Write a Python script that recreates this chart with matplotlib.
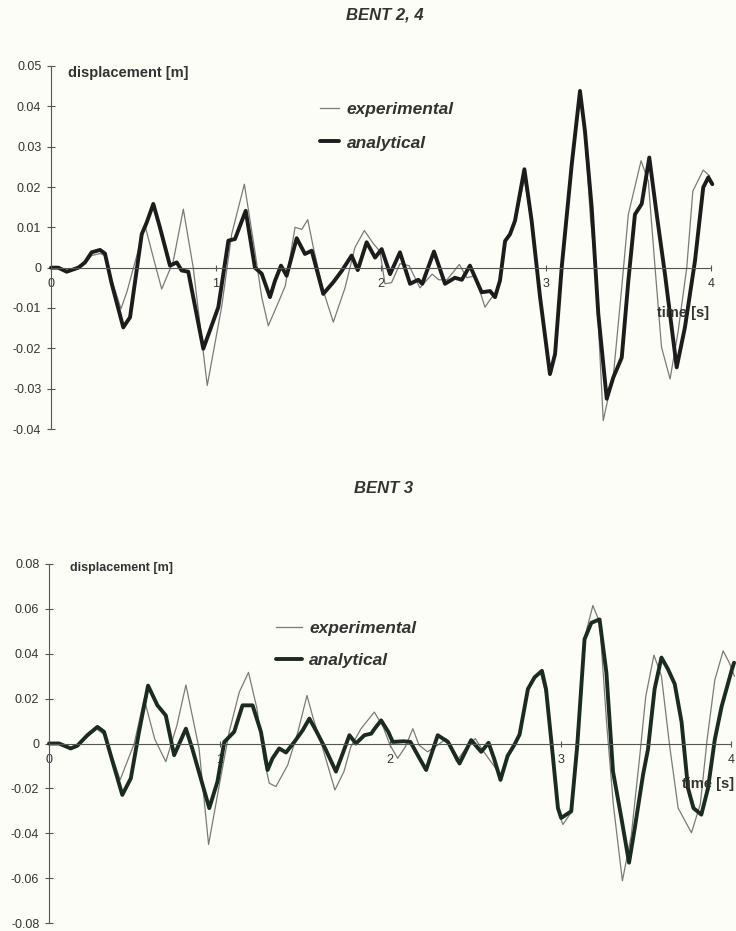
import matplotlib
matplotlib.use("Agg")
import matplotlib.pyplot as plt

plt.rcParams['font.family'] = ['Liberation Sans', 'DejaVu Sans']

# BENT 2, 4  (time [s], displacement [m])
t_ana_24 = [0, 0.044, 0.095, 0.166, 0.206, 0.246, 0.297, 0.327, 0.368, 0.438,
            0.479, 0.55, 0.58, 0.62, 0.66, 0.721, 0.762, 0.792, 0.832, 0.923,
            1.014, 1.075, 1.115, 1.18, 1.236, 1.277, 1.327, 1.358, 1.394, 1.428,
            1.489, 1.539, 1.58, 1.65, 1.711, 1.762, 1.822, 1.859, 1.913, 1.964,
            2.004, 2.055, 2.115, 2.176, 2.226, 2.25, 2.321, 2.388, 2.448, 2.49,
            2.539, 2.61, 2.661, 2.691, 2.721, 2.752, 2.782, 2.812, 2.869, 2.913,
            2.964, 3.024, 3.055, 3.095, 3.156, 3.206, 3.236, 3.277, 3.317, 3.368,
            3.408, 3.459, 3.499, 3.539, 3.58, 3.626, 3.671, 3.721, 3.792, 3.842,
            3.903, 3.953, 3.984, 4.008]
d_ana_24 = [0, 0, -0.001, 0, 0.0013, 0.0038, 0.0044, 0.0035, -0.004, -0.0148,
            -0.0123, 0.0083, 0.0112, 0.0158, 0.01, 0.0005, 0.0013, -0.0007, -0.001, -0.0201,
            -0.0098, 0.0067, 0.0071, 0.0141, 0, -0.0015, -0.0073, -0.0032, 0.0005, -0.002,
            0.0073, 0.0034, 0.0042, -0.0065, -0.0036, -0.0008, 0.003, -0.0006, 0.0063, 0.0025,
            0.0046, -0.0016, 0.0038, -0.004, -0.003, -0.004, 0.004, -0.004, -0.0025, -0.003,
            0.0005, -0.0061, -0.0058, -0.0073, -0.0032, 0.0066, 0.0083, 0.0116, 0.0244, 0.0116,
            -0.0073, -0.0264, -0.0214, 0, 0.0256, 0.0438, 0.0339, 0.0149, -0.0115, -0.0325,
            -0.0272, -0.0223, -0.0033, 0.0132, 0.0158, 0.0273, 0.0132, -0.0016, -0.0247, -0.0148,
            0.0017, 0.0199, 0.0224, 0.0207]

t_exp_24 = [0, 0.044, 0.095, 0.166, 0.206, 0.246, 0.297, 0.327, 0.368, 0.424,
            0.46, 0.5, 0.57, 0.62, 0.671, 0.741, 0.802, 0.862, 0.947, 1.034,
            1.095, 1.172, 1.236, 1.277, 1.317, 1.378, 1.42, 1.479, 1.52, 1.556,
            1.59, 1.65, 1.711, 1.782, 1.842, 1.899, 1.953, 1.994, 2.024, 2.064,
            2.115, 2.17, 2.236, 2.31, 2.35, 2.4, 2.475, 2.52, 2.57, 2.63,
            2.66, 2.69, 2.721, 2.752, 2.782, 2.812, 2.869, 2.913, 2.964, 3.024,
            3.055, 3.095, 3.156, 3.206, 3.236, 3.27, 3.3, 3.347, 3.41, 3.459,
            3.499, 3.576, 3.62, 3.661, 3.70, 3.752, 3.80, 3.853, 3.89, 3.953, 3.99]
d_exp_24 = [0, 0, -0.0012, 0, 0.001, 0.003, 0.0035, 0.003, -0.003, -0.0102,
            -0.006, 0, 0.0104, 0.0025, -0.0053, 0.0016, 0.0145, 0, -0.0292, -0.0098,
            0.0083, 0.0207, 0.004, -0.0073, -0.0144, -0.0086, -0.0045, 0.01, 0.0095, 0.0119,
            0.005, -0.0057, -0.0135, -0.005, 0.005, 0.0092, 0.006, 0.004, -0.004, -0.0037,
            0.001, 0.0005, -0.005, -0.0016, -0.003, -0.003, 0.0008, -0.0025, -0.002, -0.0098,
            -0.008, -0.0065, -0.0032, 0.0066, 0.0083, 0.011, 0.022, 0.011, -0.008, -0.026,
            -0.021, 0, 0.026, 0.0442, 0.033, 0.012, 0, -0.0379, -0.026, -0.0049,
            0.0132, 0.0265, 0.0215, 0, -0.0197, -0.0276, -0.016, 0, 0.019, 0.0242, 0.0228]

# BENT 3
t_ana_3 = [0, 0.059, 0.127, 0.166, 0.225, 0.284, 0.323, 0.362, 0.43, 0.48,
           0.528, 0.581, 0.636, 0.685, 0.734, 0.803, 0.84, 0.94, 0.988, 1.028,
           1.086, 1.135, 1.194, 1.243, 1.282, 1.311, 1.35, 1.39, 1.439, 1.488,
           1.527, 1.57, 1.62, 1.683, 1.72, 1.762, 1.8, 1.85, 1.89, 1.91,
           1.948, 1.99, 2.016, 2.08, 2.12, 2.173, 2.212, 2.28, 2.34, 2.408,
           2.476, 2.535, 2.578, 2.61, 2.648, 2.69, 2.73, 2.76, 2.809, 2.848,
           2.891, 2.915, 2.955, 2.985, 3.004, 3.063, 3.098, 3.141, 3.181, 3.229,
           3.269, 3.308, 3.357, 3.402, 3.435, 3.484, 3.513, 3.552, 3.592, 3.63,
           3.67, 3.71, 3.748, 3.78, 3.826, 3.865, 3.905, 3.945, 4.003, 4.018]
d_ana_3 = [0, 0, -0.0022, -0.001, 0.0037, 0.0074, 0.0052, -0.0052, -0.0229, -0.0155,
           0.0052, 0.0258, 0.017, 0.0125, -0.0052, 0.0066, -0.0022, -0.0288, -0.017, 0.0007,
           0.0052, 0.017, 0.017, 0.0052, -0.0118, -0.0066, -0.0022, -0.004, 0.0007, 0.0059,
           0.0111, 0.0052, -0.0022, -0.0125, -0.005, 0.0037, 0, 0.0037, 0.0044, 0.0066,
           0.0103, 0.0052, 0.0007, 0.001, 0.0007, -0.0066, -0.0118, 0.0037, 0.0007, -0.0089,
           0.0015, -0.0037, 0.0003, -0.0066, -0.0162, -0.0055, -0.0005, 0.004, 0.0243, 0.0295,
           0.0324, 0.0243, -0.0055, -0.0288, -0.0332, -0.0302, -0.0012, 0.0465, 0.0538, 0.0553,
           0.0317, -0.0125, -0.0332, -0.0531, -0.038, -0.014, -0.0026, 0.0243, 0.0383, 0.0332,
           0.0265, 0.0096, -0.02, -0.0288, -0.0317, -0.02, 0.0018, 0.0165, 0.0324, 0.036]

t_exp_3 = [0, 0.059, 0.127, 0.166, 0.225, 0.28, 0.323, 0.362, 0.417, 0.5,
           0.558, 0.62, 0.685, 0.75, 0.803, 0.88, 0.936, 1.0, 1.057, 1.116,
           1.17, 1.22, 1.26, 1.292, 1.331, 1.40, 1.46, 1.513, 1.55, 1.60,
           1.677, 1.73, 1.77, 1.83, 1.908, 1.96, 2.0, 2.045, 2.09, 2.134,
           2.17, 2.22, 2.28, 2.33, 2.39, 2.45, 2.50, 2.55, 2.61, 2.648,
           2.69, 2.73, 2.76, 2.809, 2.848, 2.88, 2.915, 2.955, 2.985, 3.014,
           3.06, 3.10, 3.151, 3.19, 3.23, 3.27, 3.31, 3.363, 3.415, 3.465,
           3.50, 3.548, 3.592, 3.64, 3.69, 3.768, 3.82, 3.86, 3.905, 3.954,
           3.99, 4.02]
d_exp_3 = [0, 0, -0.002, -0.001, 0.003, 0.0065, 0.004, -0.004, -0.0162, 0,
           0.0199, 0.002, -0.0081, 0.008, 0.0261, -0.0022, -0.045, -0.018, 0.0052, 0.0229,
           0.0317, 0.0155, -0.0066, -0.0177, -0.0192, -0.0096, 0.0052, 0.0214, 0.0111, -0.0007,
           -0.0207, -0.0125, -0.0015, 0.0066, 0.014, 0.0074, -0.0007, -0.0066, -0.0015, 0.0066,
           -0.0007, -0.0037, -0.0007, 0.0022, -0.0081, -0.0015, 0.0022, -0.0037, -0.01, -0.014,
           -0.006, -0.001, 0.004, 0.024, 0.029, 0.032, 0.022, -0.006, -0.03, -0.0361,
           -0.031, 0.0062, 0.050, 0.0615, 0.054, 0.0096, -0.0273, -0.0612, -0.041, -0.0055,
           0.021, 0.0394, 0.030, -0.001, -0.0288, -0.0398, -0.027, 0.0018, 0.0283, 0.0413,
           0.036, 0.030]

x_ticks = [0, 1, 2, 3, 4]
y_ticks_24 = [-0.04, -0.03, -0.02, -0.01, 0, 0.01, 0.02, 0.03, 0.04, 0.05]
y_ticks_3 = [-0.08, -0.06, -0.04, -0.02, 0, 0.02, 0.04, 0.06, 0.08]

W, H = 736, 931
bg = '#fdfdf7'
axis_col = '#555555'
txt_col = '#333333'

fig = plt.figure(figsize=(W / 100, H / 100), dpi=100, facecolor=bg)


def setup_axes(ax, yticks):
    # only a left axis and a zero line with crossing ticks
    ax.set_facecolor('none')
    ax.set_xlim(0, 4)
    ax.set_ylim(yticks[0], yticks[-1])
    ax.spines['top'].set_visible(False)
    ax.spines['right'].set_visible(False)
    ax.spines['bottom'].set_position(('data', 0))
    for s in ('left', 'bottom'):
        ax.spines[s].set_color(axis_col)
        ax.spines[s].set_linewidth(0.8)
    ax.set_yticks(yticks)
    ax.set_yticklabels(['%g' % v for v in yticks])
    ax.set_xticks(x_ticks)
    ax.set_xticklabels([str(v) for v in x_ticks])
    ax.tick_params(axis='y', direction='inout', length=6, width=0.8,
                   color=axis_col, labelsize=9, labelcolor=txt_col, pad=4)
    ax.tick_params(axis='x', direction='inout', length=5, width=0.8,
                   color=axis_col, labelsize=9, labelcolor=txt_col, pad=5)


# ---- BENT 2, 4
ax1 = fig.add_axes([51 / W, 1 - 429 / H, 660 / W, 363 / H])
setup_axes(ax1, y_ticks_24)
l1, = ax1.plot(t_exp_24, d_exp_24, color='#7a7a7a', lw=0.9, clip_on=False,
               label='experimental')
l2, = ax1.plot(t_ana_24, d_ana_24, color='#1c1c1c', lw=2.8, clip_on=False,
               solid_joinstyle='round', solid_capstyle='round', label='analytical')
fig.text(385 / W, 1 - 15 / H, 'BENT 2, 4', ha='center', va='center',
         fontsize=12, fontweight='bold', fontstyle='italic', color=txt_col)
fig.text(68 / W, 1 - 73 / H, 'displacement [m]', ha='left', va='center',
         fontsize=10.5, fontweight='bold', color=txt_col)
fig.text(657 / W, 1 - 313 / H, 'time [s]', ha='left', va='center',
         fontsize=10.5, fontweight='bold', color=txt_col)
ax1.legend(handles=[l1, l2], loc='upper left', bbox_to_anchor=(320 / W, 1 - 102 / H),
           bbox_transform=fig.transFigure, frameon=False, borderpad=0,
           borderaxespad=0, handlelength=1.1, handletextpad=0.45, labelspacing=1.05,
           labelcolor=txt_col,
           prop={'weight': 'bold', 'style': 'italic', 'size': 12.5})

# ---- BENT 3
ax2 = fig.add_axes([49 / W, 1 - 923 / H, 682 / W, 359 / H])
setup_axes(ax2, y_ticks_3)
l3, = ax2.plot(t_exp_3, d_exp_3, color='#7a7a7a', lw=0.9, clip_on=False,
               label='experimental')
l4, = ax2.plot(t_ana_3, d_ana_3, color='#1c2b22', lw=2.8, clip_on=False,
               solid_joinstyle='round', solid_capstyle='round', label='analytical')
fig.text(384 / W, 1 - 488 / H, 'BENT 3', ha='center', va='center',
         fontsize=12, fontweight='bold', fontstyle='italic', color=txt_col)
fig.text(70 / W, 1 - 568 / H, 'displacement [m]', ha='left', va='center',
         fontsize=9, fontweight='bold', color=txt_col)
fig.text(734 / W, 1 - 784 / H, 'time [s]', ha='right', va='center',
         fontsize=10.5, fontweight='bold', color=txt_col)
ax2.legend(handles=[l3, l4], loc='upper left', bbox_to_anchor=(276 / W, 1 - 621 / H),
           bbox_transform=fig.transFigure, frameon=False, borderpad=0,
           borderaxespad=0, handlelength=1.5, handletextpad=0.4, labelspacing=0.95,
           labelcolor=txt_col,
           prop={'weight': 'bold', 'style': 'italic', 'size': 12.5})

fig.savefig('out.png', dpi=100, facecolor=bg)
